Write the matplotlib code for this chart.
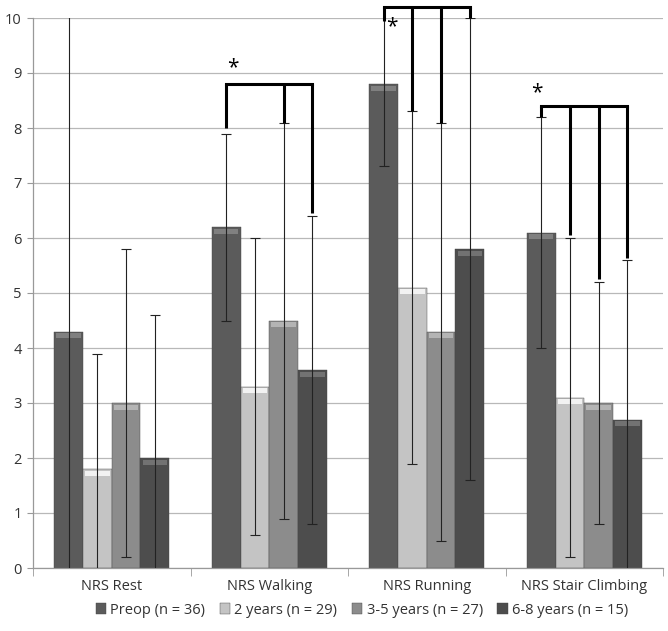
import matplotlib
matplotlib.use("Agg")
import matplotlib.pyplot as plt
import numpy as np

categories = ["NRS Rest", "NRS Walking", "NRS Running", "NRS Stair Climbing"]
series = ["Preop (n = 36)", "2 years (n = 29)", "3-5 years (n = 27)", "6-8 years (n = 15)"]
preop = [4.3, 6.2, 8.8, 6.1]
y2 = [1.8, 3.3, 5.1, 3.1]
y35 = [3.0, 4.5, 4.3, 3.0]
y68 = [2.0, 3.6, 5.8, 2.7]
sd_preop = [5.8, 1.7, 1.5, 2.1]
sd_y2 = [2.1, 2.7, 3.2, 2.9]
sd_y35 = [2.8, 3.6, 3.8, 2.2]
sd_y68 = [2.6, 2.8, 4.2, 2.9]

# significance brackets: category index, bracket level, bars with drops, drop end values, star position
br_cat = [1, 2, 3]
br_top = [8.8, 10.2, 8.4]
br_bars = [[0, 2, 3], [0, 1, 2, 3], [0, 1, 2, 3]]
br_ends = [[8.0, 8.1, 6.45], [9.95, 8.3, 8.1, 10.0], [8.2, 6.05, 5.25, 5.63]]
star_dx = [0.04, 0.05, -0.03]
star_y = [9.1, 9.85, 8.65]

colors = ["#5b5b5b", "#c4c4c4", "#8c8c8c", "#4d4d4d"]
tops = ["#808080", "#f2f2f2", "#b4b4b4", "#727272"]

plt.rcParams['font.family'] = ['Open Sans', 'DejaVu Sans']
fig = plt.figure(figsize=(6.68, 6.31), dpi=100)
ax = fig.add_axes([33/668, 1-568/631, 630/668, 550/631])

means = [preop, y2, y35, y68]
sds = [sd_preop, sd_y2, sd_y35, sd_y68]
w = 0.1825
x = np.arange(len(categories))
for k in range(4):
    xs = x + (k - 1.5) * w
    ax.bar(xs, means[k], width=w, color=colors[k], edgecolor="#444444", linewidth=0.3,
           label=series[k], zorder=2)
    m = np.array(means[k])
    ax.bar(xs, 0.09, bottom=m - 0.12, width=w * 0.86, color=tops[k], linewidth=0, zorder=2.5)
    ax.errorbar(xs, means[k], yerr=sds[k], fmt="none", ecolor="#222222", elinewidth=0.8,
                capsize=3.5, capthick=0.8, zorder=3)

for c, top, bars, ends, dx, sy in zip(br_cat, br_top, br_bars, br_ends, star_dx, star_y):
    bx = [c + (b - 1.5) * w for b in bars]
    ax.plot([bx[0], bx[-1]], [top, top], color="black", lw=2.2, solid_capstyle="projecting",
            clip_on=False, zorder=4)
    for xx, e in zip(bx, ends):
        ax.plot([xx, xx], [top, e], color="black", lw=2.2, solid_capstyle="butt",
                clip_on=False, zorder=4)
    ax.text(bx[0] + dx, sy, "*", ha="center", va="center", fontsize=15, clip_on=False, zorder=5)

ax.set_xlim(-0.5, 3.5)
ax.set_ylim(0, 10)
ax.set_yticks(range(0, 11))
ax.set_xticks(x)
ax.set_xticklabels(categories)
ax.set_xticks(np.arange(-0.5, 4.0, 1.0), minor=True)
ax.tick_params(axis="x", which="major", length=0, pad=8, labelsize=10.5, colors="#333333")
ax.tick_params(axis="x", which="minor", length=6, color="#999999", direction="out")
ax.tick_params(axis="y", length=4, color="#999999", labelsize=10.5, labelcolor="#333333", pad=4)
ax.yaxis.grid(True, color="#b8b8b8", lw=0.9, zorder=0)
ax.set_axisbelow(True)
for s in ["top", "right"]:
    ax.spines[s].set_visible(False)
for s in ["left", "bottom"]:
    ax.spines[s].set_color("#999999")
    ax.spines[s].set_linewidth(0.9)

leg = fig.legend(loc="center", bbox_to_anchor=(362/668, 1-610/631), ncol=4, frameon=False,
                 fontsize=10.5, handlelength=0.7, handleheight=0.7, handletextpad=0.3,
                 columnspacing=1.0)
for t in leg.get_texts():
    t.set_color("#333333")

fig.savefig("out.png", dpi=100)
